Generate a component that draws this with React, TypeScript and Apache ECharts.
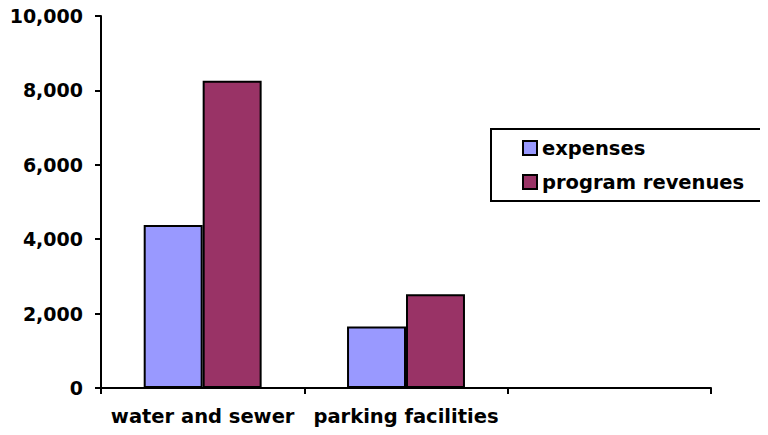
import React, { useEffect, useRef } from "react";
import * as echarts from "echarts";

const categories = ["water and sewer", "parking facilities", ""];
const expenses = [4380, 1650, null];
const programRevenues = [8260, 2520, null];
const yTicks = { min: 0, max: 10000, interval: 2000 };

const FONT = "DejaVu Sans";

export default function App() {
  const ref = useRef<HTMLDivElement>(null);
  useEffect(() => {
    if (!ref.current) return;
    const chart = echarts.init(ref.current, null, { renderer: "svg" });
    chart.setOption({
      animation: false,
      backgroundColor: "#ffffff",
      grid: { left: 101, right: 57, top: 16, bottom: 47, containLabel: false },
      legend: {
        orient: "vertical",
        left: 491,
        top: 129,
        padding: [9, 21, 9, 31],
        itemGap: 14,
        itemWidth: 14,
        itemHeight: 14,
        icon: "rect",
        borderColor: "#000",
        borderWidth: 2,
        textStyle: { fontFamily: FONT, fontWeight: "bold", fontSize: 19.5, color: "#000" },
        data: ["expenses", "program revenues"],
      },
      xAxis: {
        type: "category",
        data: categories,
        boundaryGap: true,
        axisLine: { lineStyle: { color: "#000", width: 2 } },
        axisTick: { show: true, length: 6, lineStyle: { color: "#000", width: 2 } },
        axisLabel: {
          color: "#000",
          fontFamily: FONT,
          fontWeight: "bold",
          fontSize: 19.5,
          margin: 18,
          interval: 0,
        },
      },
      yAxis: {
        type: "value",
        min: yTicks.min,
        max: yTicks.max,
        interval: yTicks.interval,
        splitLine: { show: false },
        axisLine: { show: true, lineStyle: { color: "#000", width: 2 } },
        axisTick: { show: true, length: 6, lineStyle: { color: "#000", width: 2 } },
        axisLabel: {
          color: "#000",
          fontFamily: FONT,
          fontWeight: "bold",
          fontSize: 19,
          margin: 18,
          formatter: (v: number) => v.toLocaleString("en-US"),
        },
      },
      series: [
        {
          name: "expenses",
          type: "bar",
          data: expenses,
          barWidth: "29%",
          barGap: "0%",
          itemStyle: { color: "#9999FF", borderColor: "#000", borderWidth: 2 },
        },
        {
          name: "program revenues",
          type: "bar",
          data: programRevenues,
          barWidth: "29%",
          barGap: "0%",
          itemStyle: { color: "#993366", borderColor: "#000", borderWidth: 2 },
        },
      ],
    });
    return () => chart.dispose();
  }, []);
  return <div ref={ref} style={{ width: 768, height: 435, margin: -8 }} />;
}
